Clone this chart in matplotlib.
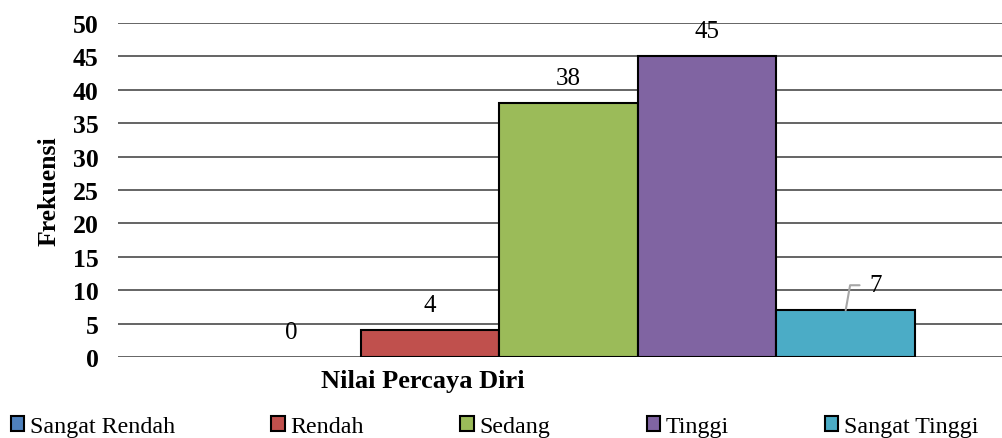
import matplotlib
matplotlib.use("Agg")
import matplotlib.pyplot as plt
import numpy as np

categories = ["Sangat Rendah", "Rendah", "Sedang", "Tinggi", "Sangat Tinggi"]
values = [0, 4, 38, 45, 7]
colors = ["#4F81BD", "#C0504D", "#9BBB59", "#8064A2", "#4BACC6"]
group_label = "Nilai Percaya Diri"
yticks = [0, 5, 10, 15, 20, 25, 30, 35, 40, 45, 50]

plt.rcParams['font.family'] = ['Liberation Serif', 'DejaVu Serif']

W, H = 1003, 439
fig = plt.figure(figsize=(W / 100, H / 100), dpi=100)
ax = fig.add_axes([118 / W, 81 / H, 885 / W, 334 / H])

offsets = np.arange(len(categories)) - 2
bars = []
for off, v, c, name in zip(offsets, values, colors, categories):
    b = ax.bar(off, v, width=1.0, color=c,
               edgecolor="black" if v > 0 else "none", linewidth=1.5,
               label=name, zorder=3)
    bars.append(b)

ax.set_xlim(-3.25, 3.135)
ax.set_ylim(0, 50)
ax.set_yticks(yticks)
ax.set_yticklabels([str(t) for t in yticks], fontsize=18.5, fontweight="bold")
ax.tick_params(axis="y", length=0, pad=14)
ax.set_xticks([])
for s in ax.spines.values():
    s.set_visible(False)
ax.yaxis.grid(True, color="#4a4a4a", linewidth=1.2, zorder=0)
ax.set_axisbelow(True)

ax.set_ylabel("Frekuensi", fontsize=18.5, fontweight="bold")
ax.yaxis.set_label_coords(-0.0645, 0.5)

ax.text(-1.05, -0.07, group_label, transform=ax.get_xaxis_transform(),
        ha="center", va="center", fontsize=19, fontweight="bold")

# data labels
for i, (off, v) in enumerate(zip(offsets, values)):
    if i == len(values) - 1:
        ax.annotate(str(v), xy=(off, v), xytext=(17, 18), textcoords="offset points",
                    ha="left", va="center", fontsize=18,
                    arrowprops=dict(arrowstyle="-", color="#a6a6a6", lw=1.5,
                                    connectionstyle="angle,angleA=0,angleB=80,rad=0",
                                    relpos=(0, 0.5), shrinkA=5, shrinkB=0))
    else:
        ax.annotate(str(v), xy=(off, v), xytext=(0, 18), textcoords="offset points",
                    ha="center", va="center", fontsize=18)

fig.legend(handles=[b for b in bars], labels=categories, loc="center left",
           bbox_to_anchor=(11 / W, 11.5 / H), ncol=5, frameon=False,
           fontsize=17.3, handlelength=0.55, handleheight=0.55, handletextpad=0.25,
           columnspacing=4.0, borderpad=0, borderaxespad=0)
for h in fig.legends[0].legend_handles:
    h.set_edgecolor("black")
    h.set_linewidth(1.5)

fig.savefig("out.png", dpi=100)
